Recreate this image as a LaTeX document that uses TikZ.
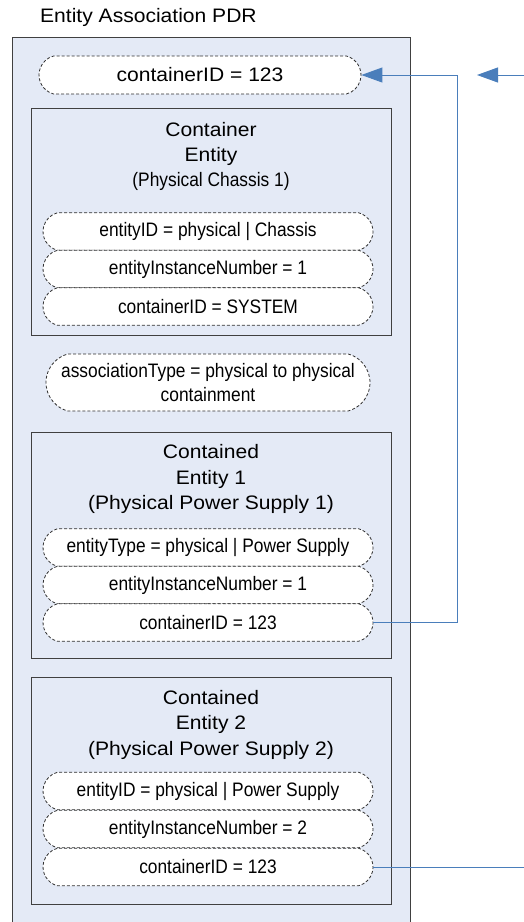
\documentclass[tikz,border=0pt]{standalone}
\usepackage{fontspec}
\setmainfont{Liberation Sans}
\newfontfamily\wfont[FakeStretch=1.08]{Liberation Sans}
\newfontfamily\nfont[FakeStretch=0.89]{Liberation Sans}
\usetikzlibrary{arrows.meta,shapes.misc}
\definecolor{boxfill}{HTML}{E4EAF6}
\definecolor{boxline}{HTML}{404040}
\definecolor{pillline}{HTML}{303030}
\definecolor{conn}{HTML}{4A7EBB}
\begin{document}
\begin{tikzpicture}[x=1pt,y=-1pt,
  wtext/.style={font=\wfont\fontsize{19.5}{25.5}\selectfont},
  ntext/.style={font=\nfont\fontsize{19.5}{24}\selectfont},
  pill/.style={draw=pillline, dash pattern=on 3pt off 2pt, line width=0.8pt, fill=white,
    rounded rectangle, rounded rectangle arc length=150, inner sep=0pt, align=center},
  ebox/.style={draw=boxline, line width=0.9pt, fill=boxfill},
  link/.style={draw=conn, line width=0.9pt},
  tip/.style={-{Triangle[length=21pt,width=15pt]}}
]
\useasboundingbox (0,0) rectangle (524,922);
% title
\node[wtext, anchor=west, inner sep=0pt] (title) at (40,17) {Entity Association PDR};
% outer box
\path[ebox] (12,37) rectangle (410,935);
\coordinate (outer) at (12,37);
% top pill
\node[pill, wtext, minimum width=322pt, minimum height=38pt] (top) at (200,75) {containerID = 123};
% container entity
\path[ebox] (31,108) rectangle (391,335);
\node[align=center, inner sep=0pt, font=\fontsize{19.5}{25}\selectfont] (ctitle) at (211,156)
  {{\wfont Container}\\{\wfont Entity}\\{\nfont (Physical Chassis 1)}};
\node[pill, ntext, minimum width=330pt, minimum height=37.5pt] (c1) at (208,231.5) {entityID = physical | Chassis};
\node[pill, ntext, minimum width=330pt, minimum height=37.5pt] (c2) at (208,269) {entityInstanceNumber = 1};
\node[pill, ntext, minimum width=330pt, minimum height=37.5pt] (c3) at (208,306.5) {containerID = SYSTEM};
% association type
\node[pill, ntext, minimum width=324pt, minimum height=57pt] (assoc) at (208,382.5)
  {associationType = physical to physical\\containment};
% contained entity 1
\path[ebox] (31,432) rectangle (391,658);
\node[align=center, inner sep=0pt, wtext] (e1title) at (211,479)
  {Contained\\Entity 1\\(Physical Power Supply 1)};
\node[pill, ntext, minimum width=330pt, minimum height=37.5pt] (a1) at (208,547.5) {entityType = physical | Power Supply};
\node[pill, ntext, minimum width=330pt, minimum height=37.5pt] (a2) at (208,585) {entityInstanceNumber = 1};
\node[pill, ntext, minimum width=330pt, minimum height=37.5pt] (a3) at (208,622.5) {containerID = 123};
% contained entity 2
\path[ebox] (31,677) rectangle (391,904);
\node[align=center, inner sep=0pt, wtext] (e2title) at (211,724.5)
  {Contained\\Entity 2\\(Physical Power Supply 2)};
\node[pill, ntext, minimum width=330pt, minimum height=37.5pt] (b1) at (208,791) {entityID = physical | Power Supply};
\node[pill, ntext, minimum width=330pt, minimum height=37.5pt] (b2) at (208,829) {entityInstanceNumber = 2};
\node[pill, ntext, minimum width=330pt, minimum height=37.5pt] (b3) at (208,867) {containerID = 123};
% connectors
\coordinate (bend) at (457,622.5);
\coordinate (bendtop) at (457,75);
\draw[link, tip] (a3.east) -- (bend) -- (bendtop) -- (top.east);
\coordinate (inR) at (524,75);
\coordinate (inL) at (477,75);
\draw[link, tip] (inR) -- (inL);
\coordinate (outR) at (524,867);
\draw[link] (b3.east) -- (outR);
\end{tikzpicture}
\end{document}
